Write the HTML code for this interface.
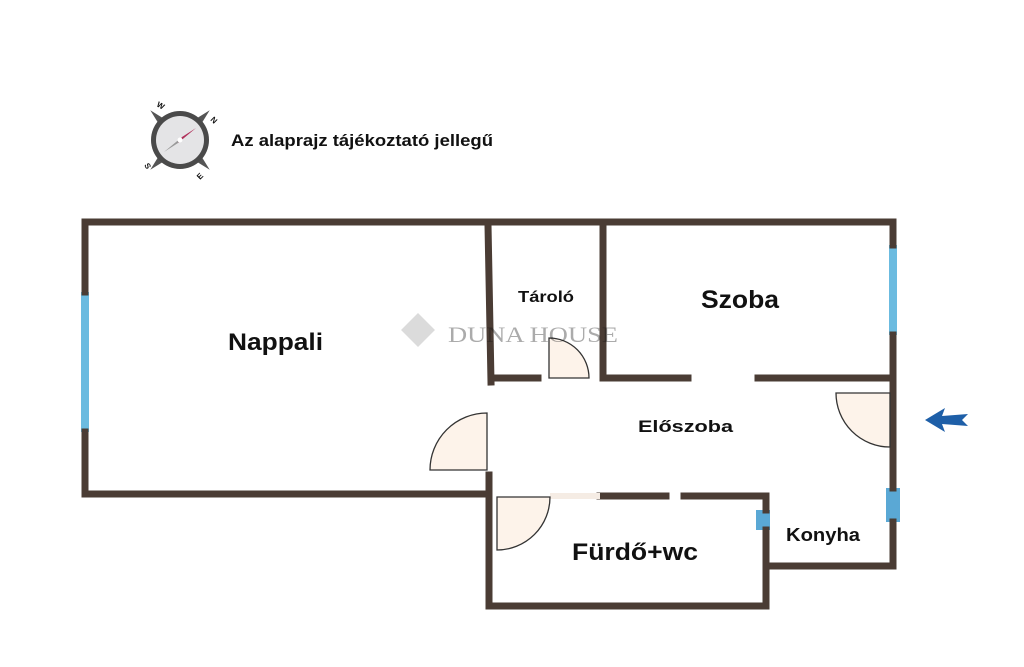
<!DOCTYPE html>
<html><head><meta charset="utf-8"><style>
body{margin:0;background:#fff}
svg{display:block}
text{font-family:"Liberation Sans",sans-serif;font-weight:bold;fill:#111}
</style></head><body>
<svg width="1024" height="667" viewBox="0 0 1024 667">
<rect width="1024" height="667" fill="#fff"/>
<!-- compass -->
<g transform="translate(180,140)">
<polygon points="0,-42 8,-8 42,0 8,8 0,42 -8,8 -42,0 -8,-8" fill="#555" transform="rotate(45)"/>
<circle r="29" fill="#4a4a4a"/>
<circle r="24" fill="#e4e4e6"/>
<polygon points="16,-12 2,-3 -2,3" fill="#b0305a"/>
<polygon points="-16,12 2,-3 -2,3" fill="#999"/>
<circle r="2.5" fill="#fff"/>
<text x="-24" y="-34" font-size="8" fill="#666" transform="rotate(30,-24,-34)">W</text>
<text x="30" y="-20" font-size="8" fill="#666" transform="rotate(45,30,-20)">N</text>
<text x="-36" y="25" font-size="8" fill="#666" transform="rotate(60,-36,25)">S</text>
<text x="20" y="40" font-size="8" fill="#666" transform="rotate(-45,20,40)">E</text>
</g>
<text x="231" y="146" font-size="17" textLength="262" lengthAdjust="spacingAndGlyphs">Az alaprajz tájékoztató jellegű</text>
<!-- windows -->
<g fill="#6bbbe0">
<rect x="81" y="292" width="8" height="140"/>
<rect x="889" y="245" width="8" height="90"/>
<rect x="886" y="488" width="14" height="34" fill="#5aa8d5"/>
<rect x="756" y="510" width="14" height="20" fill="#5aa8d5"/>
</g>
<!-- walls -->
<g stroke="#4a3c34" stroke-width="7" fill="none" stroke-linecap="square">
<path d="M85 222 H893 V245 M893 335 V488 M893 522 V566 H766 M766 530 V606 H489 V496"/>
<path d="M85 222 V292 M85 432 V494 H489"/>
<path d="M488 225 L491 382 M489 475 V496"/>
<path d="M603 222 V378"/>
<path d="M492 378 H538 M603 378 H688 M758 378 H893"/>
<path d="M600 496 H666 M684 496 H766 V510"/>
</g>
<rect x="550" y="493" width="50" height="6" fill="#f5ece4"/>
<!-- doors -->
<g fill="#fdf3ea" stroke="#333" stroke-width="1.3">
<path d="M549 378 V338 A40 40 0 0 1 589 378 Z"/>
<path d="M487 470 H430 A57 57 0 0 1 487 413 Z"/>
<path d="M890 393 H836 A54 54 0 0 0 890 447 Z"/>
<path d="M497 497 V550 A53 53 0 0 0 550 497 Z"/>
</g>
<!-- watermark -->
<g opacity="0.35">
<rect x="406" y="318" width="24" height="24" fill="#999" transform="rotate(45,418,330)"/>
<text x="448" y="342" font-size="22" textLength="170" lengthAdjust="spacingAndGlyphs" fill="#888" style="font-family:'Liberation Serif',serif;font-weight:normal">DUNA HOUSE</text>
</g>
<!-- labels -->
<text x="228" y="350" font-size="24" textLength="95" lengthAdjust="spacingAndGlyphs">Nappali</text>
<text x="518" y="302" font-size="16" textLength="56" lengthAdjust="spacingAndGlyphs">Tároló</text>
<text x="701" y="308" font-size="25" textLength="78" lengthAdjust="spacingAndGlyphs">Szoba</text>
<text x="638" y="432" font-size="17" textLength="95" lengthAdjust="spacingAndGlyphs">Előszoba</text>
<text x="572" y="560" font-size="24" textLength="126" lengthAdjust="spacingAndGlyphs">Fürdő+wc</text>
<text x="786" y="541" font-size="18" textLength="74" lengthAdjust="spacingAndGlyphs">Konyha</text>
<!-- arrow -->
<polygon points="925,420 945,408 942,416 968,414 962,420 968,426 942,424 945,432" fill="#1e5fa8"/>
</svg>
</body></html>
